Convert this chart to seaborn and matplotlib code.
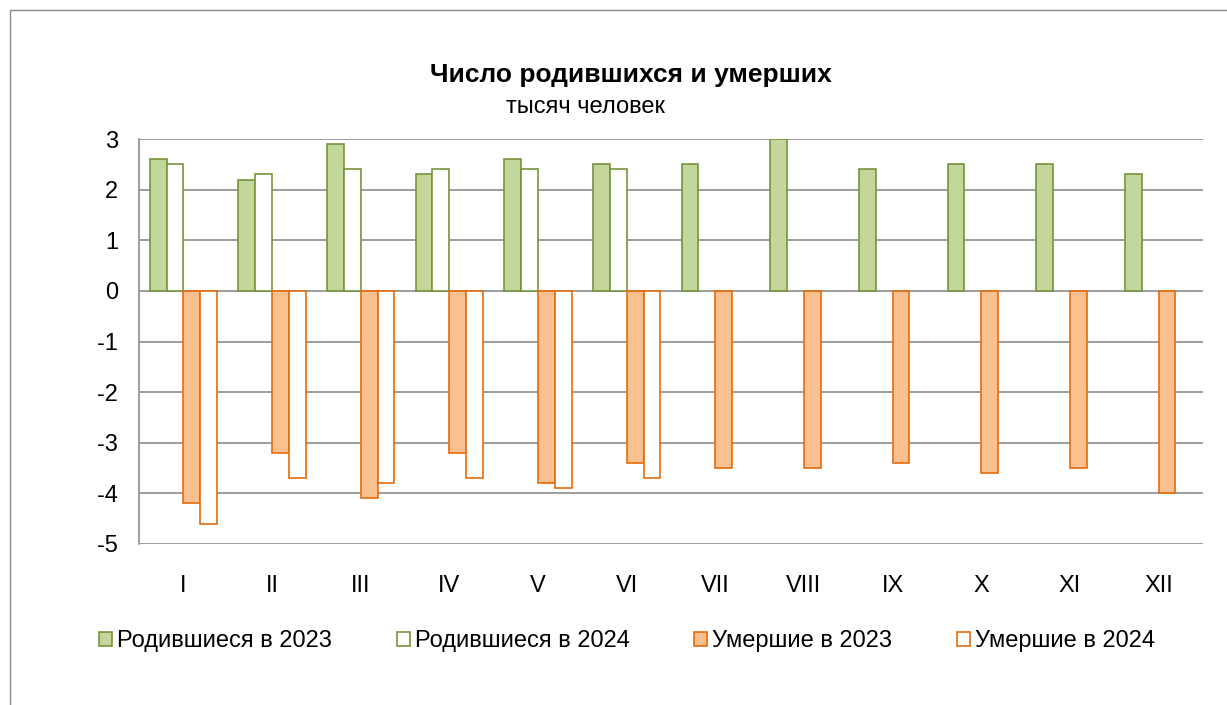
import numpy as np
import pandas as pd
import seaborn as sns
from matplotlib import pyplot as plt
from matplotlib.patches import Patch
from matplotlib.lines import Line2D

months = ["I", "II", "III", "IV", "V", "VI", "VII", "VIII", "IX", "X", "XI", "XII"]
born_2023 = [2.6, 2.2, 2.9, 2.3, 2.6, 2.5, 2.5, 3.0, 2.4, 2.5, 2.5, 2.3]
born_2024 = [2.5, 2.3, 2.4, 2.4, 2.4, 2.4]
died_2023 = [-4.2, -3.2, -4.1, -3.2, -3.8, -3.4, -3.5, -3.5, -3.4, -3.6, -3.5, -4.0]
died_2024 = [-4.6, -3.7, -3.8, -3.7, -3.9, -3.7]

series = ["Родившиеся в 2023", "Родившиеся в 2024", "Умершие в 2023", "Умершие в 2024"]
values = [born_2023, born_2024, died_2023, died_2024]

rows = []
for name, vals in zip(series, values):
    for m, v in zip(months, vals):
        rows.append({"month": m, "series": name, "value": v})
df = pd.DataFrame(rows)

green_fill, green_edge = "#C4D79B", "#77933C"
orange_fill, orange_edge = "#FAC090", "#E46C0A"
styles = [
    (green_fill, green_edge),
    ("white", green_edge),
    (orange_fill, orange_edge),
    ("white", orange_edge),
]

sns.set_style("white")
plt.rcParams["font.family"] = ["Liberation Sans", "DejaVu Sans"]
plt.rcParams["text.color"] = "black"
plt.rcParams["xtick.color"] = "black"
plt.rcParams["ytick.color"] = "black"
plt.rcParams["axes.unicode_minus"] = False

fig = plt.figure(figsize=(12.27, 7.05), dpi=100)
ax = fig.add_axes([0.1133, 0.2284, 0.9804 - 0.1133, 0.8028 - 0.2284])

sns.barplot(data=df, x="month", y="value", hue="series", order=months,
            hue_order=series, width=0.76, ax=ax, legend=False,
            palette=["#cccccc"] * 4, errorbar=None)

# excel-like styling: filled 2023 bars, hollow 2024 bars
for cont, (fc, ec) in zip(ax.containers, styles):
    for bar in cont:
        bar.set_facecolor(fc)
        bar.set_edgecolor(ec)
        bar.set_linewidth(1.2)

ax.set_xlim(-0.5, 11.5)
ax.set_ylim(-5, 3)
ax.set_yticks(range(-5, 4))
ax.set_xlabel("")
ax.set_ylabel("")
ax.yaxis.grid(True, color="#8c8c8c", linewidth=1.2)
ax.set_axisbelow(True)
for s in ["top", "right", "bottom"]:
    ax.spines[s].set_visible(False)
ax.spines["left"].set_color("#8c8c8c")
ax.spines["left"].set_linewidth(1.2)
ax.tick_params(axis="y", length=5, width=1.2, color="#8c8c8c", pad=10, labelsize=17)
ax.tick_params(axis="x", length=0, pad=22, labelsize=17)

fig.text(0.514, 0.894, "Число родившихся и умерших", ha="center", va="center",
         fontsize=19, fontweight="bold")
fig.text(0.477, 0.848, "тысяч человек", ha="center", va="center", fontsize=17)

handles = [Patch(facecolor=fc, edgecolor=ec, linewidth=1.2) for fc, ec in styles]
fig.legend(handles, series, loc="center", bbox_to_anchor=(0.511, 1 - 641 / 705),
           ncol=4, frameon=False, fontsize=17, handlelength=0.55, handleheight=0.55,
           handletextpad=0.2, columnspacing=2.75)

fig.add_artist(Line2D([0.0081, 0.0081, 1.0], [0.0, 0.9858, 0.9858],
                      transform=fig.transFigure, color="#8c8c8c", linewidth=1.0))

fig.savefig("out.png", dpi=100)
